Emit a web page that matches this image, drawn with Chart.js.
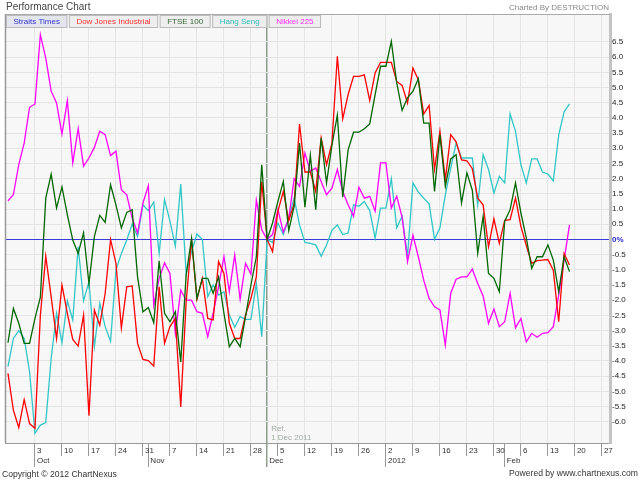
<!DOCTYPE html>
<html><head><meta charset="utf-8">
<script src="https://cdn.jsdelivr.net/npm/chart.js@4.4.0/dist/chart.umd.min.js"></script>
<style>html,body{margin:0;padding:0;background:#fff;}#wrap{width:640px;height:480px;}</style>
</head><body><div id="wrap"><canvas id="c" width="640" height="480"></canvas></div>
<script>
// ---- data (trading days from 26 Sep 2011 to 17 Feb 2012, % change vs 1 Dec 2011) ----
const seriesNames = ['Straits Times','Dow Jones Industrial','FTSE 100','Hang Seng','Nikkei 225'];
const dowJones = [-4.41,-5.62,-6.19,-5.27,-6.06,-6.22,-2.5,-0.55,-1.89,-3.26,-1.5,-2.43,-3.29,-3.51,-2.49,-5.8,-2.32,-2.82,-1.78,0.0,-0.79,-2.91,-1.56,-1.53,-3.42,-3.95,-3.99,-4.17,-1.56,-3.42,-2.87,-2.6,-5.51,-2.05,0.0,-1.97,-1.28,-2.6,-2.65,-0.73,-1.12,-2.76,-3.26,-3.26,-2.49,-1.94,-1.23,1.9,0,-0.4,0.93,1.58,0.62,1.17,3.8,2.22,2.22,1.58,3.34,2.46,3.17,6.03,3.97,4.77,5.37,5.37,5.42,4.57,5.48,5.83,5.83,5.83,5.2,5.07,4.49,5.64,5.26,4.13,4.41,2.3,3.56,1.97,3.45,3.21,2.62,2.59,2.33,1.36,1.14,-0.24,0.68,-0.13,0.63,0.65,1.36,0.43,-0.2,-0.79,-0.7,-0.68,-0.66,-1.01,-2.71,-0.46,-0.84];
const ftse100 = [-3.4,-2.27,-2.76,-3.42,-3.42,-2.6,-1.9,1.36,2.15,1.03,1.73,0.81,-0.02,-0.46,0.22,-1.45,0.09,0.79,0.56,1.8,1.14,0.38,0.89,0.98,-1.23,-2.38,-2.24,-2.74,-0.7,-2.43,-2.71,-2.38,-4.03,-1.17,0.04,-1.94,-1.28,-1.28,-1.77,-1.23,-2.43,-3.53,-3.26,-3.53,-2.54,-1.5,-0.57,2.46,0,0.54,1.25,1.91,0.29,1.09,3.17,1.06,2.77,0.98,3.34,1.86,3.1,4.09,1.39,2.95,3.53,3.53,3.64,3.8,4.77,5.7,5.7,6.52,5.15,4.25,4.66,4.88,5.29,3.83,3.83,1.58,3.45,1.75,2.65,2.79,1.2,2.19,1.62,-0.46,0.76,-1.12,-1.28,-1.72,0.6,0.98,1.86,0.87,0.05,-0.95,-0.57,-0.57,-0.18,-0.68,-1.72,-0.57,-1.06];
const hangSeng = [-4.19,-3.26,-3.0,-3.26,-4.35,-6.38,-6.11,-6.03,-3.92,-2.43,-3.4,-2.02,-2.65,-0.24,-2.02,-1.39,-3.53,-2.1,-2.87,-3.35,-1.01,-0.46,-0.02,0.51,0.1,1.14,0.95,1.23,-0.46,1.31,0.6,-0.22,1.82,-1.12,-0.4,0.18,0.0,-1.89,-1.5,-1.83,-1.72,-2.49,-2.89,-2.54,-2.63,-2.63,-1.45,-3.2,0,-0.1,0.54,0.16,0.7,1.36,0.48,-0.1,-0.13,-0.18,-0.55,-0.18,0.3,0.48,0.16,0.21,1.14,1.09,1.25,0.95,0.04,1.03,1.03,2.0,0.38,0.76,-0.55,1.86,1.56,1.36,1.17,0.0,0.38,1.47,2.35,3.17,2.68,2.68,2.68,1.14,2.79,2.3,1.53,2.08,1.86,4.13,3.56,2.46,1.86,2.65,2.65,2.22,2.15,1.93,3.43,4.2,4.46];
const nikkei225 = [1.27,1.47,2.46,3.17,4.35,4.46,6.74,5.97,4.88,4.49,3.47,4.57,2.52,3.65,2.41,2.68,3.03,3.56,3.45,2.76,2.9,1.64,1.47,0.7,0.21,1.2,1.77,-2.16,-1.28,-0.77,-1.12,-3.09,-1.67,-2.0,-2.0,-2.38,-2.43,-3.2,-2.43,-1.56,-0.57,-1.72,-0.51,-1.97,-0.79,-1.14,1.29,0.32,0,0.16,0.98,0.24,0.68,2.0,1.75,2.84,2.24,2.35,1.91,1.47,1.69,2.3,1.58,1.14,0.76,1.72,1.36,1.42,0.93,2.52,2.52,1.03,1.42,0.73,-0.73,0.14,-0.57,-1.34,-1.94,-2.22,-2.32,-3.48,-1.77,-1.31,-1.23,-1.23,-0.98,-1.45,-1.86,-2.76,-2.29,-2.87,-2.71,-1.77,-2.91,-2.6,-3.37,-3.09,-3.22,-3.09,-3.07,-2.87,-1.83,-0.68,0.48];
// ---- axis tick labels ----
const weekTickLabels = ['3','10','17','24','31','7','14','21','28','5','12','19','26','2','9','16','23','30','6','13','20','27'];
const firstWeekTick = 5;   // trading-day index of Mon 3 Oct 2011
const weekStep = 5;        // trading days per week
const monthLabels = ['Oct','Nov','Dec','2012','Feb'];
const monthStarts = [5,26,48,70,92];
const refIndex = 48;       // 1 Dec 2011
const yTicks = [-6,-5.5,-5,-4.5,-4,-3.5,-3,-2.5,-2,-1.5,-1,-0.5,0,0.5,1,1.5,2,2.5,3,3.5,4,4.5,5,5.5,6,6.5];

const FONT = '"Liberation Sans", Arial, sans-serif';
const tabColors = ['#3333cc','#ff3333','#336633','#33bbbb','#ff33ff'];

const tickVals = []; const tickText = {};
weekTickLabels.forEach((t,k)=>{ const v = firstWeekTick + k*weekStep; tickVals.push(v); tickText[v] = [t]; });
monthStarts.forEach((v,k)=>{ if (tickText[v]) tickText[v] = [tickText[v][0], monthLabels[k]]; else { tickVals.push(v); tickText[v] = ['', monthLabels[k]]; } });
tickVals.sort((a,b)=>a-b);
const isMonth = v => monthStarts.indexOf(v) >= 0;
const isWeek = v => (v - firstWeekTick) % weekStep === 0;

const toXY = arr => arr.map((v,i)=>({x:i, y:v}));

const decor = {
  id: 'decor',
  beforeDraw(chart) {
    const {ctx, chartArea: a} = chart;
    ctx.save();
    ctx.fillStyle = '#f7f7f7';
    ctx.fillRect(a.left, a.top, a.right - a.left, a.bottom - a.top);
    ctx.restore();
  },
  afterDraw(chart) {
    const {ctx, chartArea: a} = chart;
    const xs = chart.scales.x;
    ctx.save();
    // top & left frame
    ctx.strokeStyle = '#aaaaaa'; ctx.lineWidth = 1;
    ctx.beginPath(); ctx.moveTo(a.left, a.top + 0.5); ctx.lineTo(a.right, a.top + 0.5); ctx.stroke();
    ctx.strokeStyle = '#999999'; ctx.lineWidth = 1.5;
    ctx.beginPath(); ctx.moveTo(a.left + 0.5, a.top); ctx.lineTo(a.left + 0.5, a.bottom); ctx.stroke();
    // legend tabs
    ctx.font = '8px ' + FONT;
    ctx.textBaseline = 'middle'; ctx.textAlign = 'left';
    let x = a.left + 1;
    seriesNames.forEach((name, k) => {
      const w = ctx.measureText(name).width + 15;
      ctx.fillStyle = k === 0 ? '#e3e6ef' : '#eeeeee';
      ctx.fillRect(x, a.top + 1, w, 13);
      ctx.strokeStyle = '#bbbbbb'; ctx.lineWidth = 1;
      ctx.strokeRect(x + 0.5, a.top + 1.5, w - 1, 12);
      ctx.fillStyle = tabColors[k];
      ctx.fillText(name, x + 7.5, a.top + 8);
      x += w + 1.5;
    });
    // titles
    ctx.fillStyle = '#444'; ctx.font = '10px ' + FONT;
    ctx.fillText('Performance Chart', 6, 7);
    ctx.fillStyle = '#888'; ctx.font = '8px ' + FONT; ctx.textAlign = 'right';
    ctx.fillText('Charted By DESTRUCTION', 609, 7.5);
    ctx.fillStyle = '#333'; ctx.font = '8.6px ' + FONT;
    ctx.fillText('Powered by www.chartnexus.com', 638, 474);
    ctx.textAlign = 'left';
    ctx.fillText('Copyright \u00a9 2012 ChartNexus', 2, 475);
    // reference label
    const rx = xs.getPixelForValue(refIndex) + 4;
    ctx.fillStyle = '#a0aca0'; ctx.font = '8px ' + FONT;
    ctx.fillText('Ref.', rx, a.bottom - 14);
    ctx.fillText('1 Dec 2011', rx, a.bottom - 5.5);
    ctx.restore();
  }
};

const ds = (label, data, color, order) => ({
  label, data: toXY(data), borderColor: color, backgroundColor: color,
  borderWidth: 1.3, pointRadius: 0, tension: 0, fill: false, order
});

new Chart(document.getElementById('c'), {
  type: 'line',
  data: { datasets: [
    ds(seriesNames[2], ftse100, '#006600', 1),
    ds(seriesNames[1], dowJones, '#ff0000', 2),
    ds(seriesNames[4], nikkei225, '#ff00ff', 3),
    ds(seriesNames[3], hangSeng, '#33c6c6', 4)
  ]},
  options: {
    responsive: false, animation: false, devicePixelRatio: 1,
    layout: { padding: { left: 5, top: 14, right: 0, bottom: 0 } },
    plugins: { legend: { display: false }, tooltip: { enabled: false }, title: { display: false } },
    scales: {
      x: {
        type: 'linear', position: 'bottom', min: -0.55, max: 111.5,
        afterBuildTicks: s => { s.ticks = tickVals.map(v => ({ value: v })); },
        afterFit: s => { s.height = 37; },
        ticks: {
          autoSkip: false, maxRotation: 0, minRotation: 0, align: 'start', labelOffset: 2, padding: -22,
          font: { family: FONT, size: 8, lineHeight: 1.35 }, color: '#333',
          callback: v => tickText[v] || ''
        },
        grid: {
          color: c => { const v = c.tick && c.tick.value; if (v === refIndex) return '#8d9d8d'; return isWeek(v) ? '#e4e4e4' : 'rgba(0,0,0,0)'; },
          lineWidth: c => (c.tick && c.tick.value === refIndex) ? 1.5 : 1,
          tickLength: 24,
          tickColor: c => (c.tick && c.tick.value === refIndex) ? '#8d9d8d' : '#999999',
          tickBorderDash: c => isMonth(c.tick && c.tick.value) ? [] : [12, 40]
        },
        border: { display: true, color: '#999999', width: 1 }
      },
      y: {
        type: 'linear', position: 'right', min: -6.7, max: 7.42,
        afterBuildTicks: s => { s.ticks = yTicks.map(v => ({ value: v })); },
        afterFit: s => { s.width = 30; },
        ticks: {
          padding: 2,
          font: c => ({ family: FONT, size: 8, weight: (c.tick && c.tick.value === 0) ? 'bold' : 'normal' }),
          color: c => (c.tick && c.tick.value === 0) ? '#2a2acc' : '#222222',
          callback: v => v === 0 ? '0%' : Number(v).toFixed(1)
        },
        grid: {
          drawTicks: false,
          color: c => (c.tick && c.tick.value === 0) ? '#3a3ad6' : '#e4e4e4'
        },
        border: { display: true, color: '#c4c4c4', width: 3 }
      }
    }
  },
  plugins: [decor]
});
</script>
</body></html>
